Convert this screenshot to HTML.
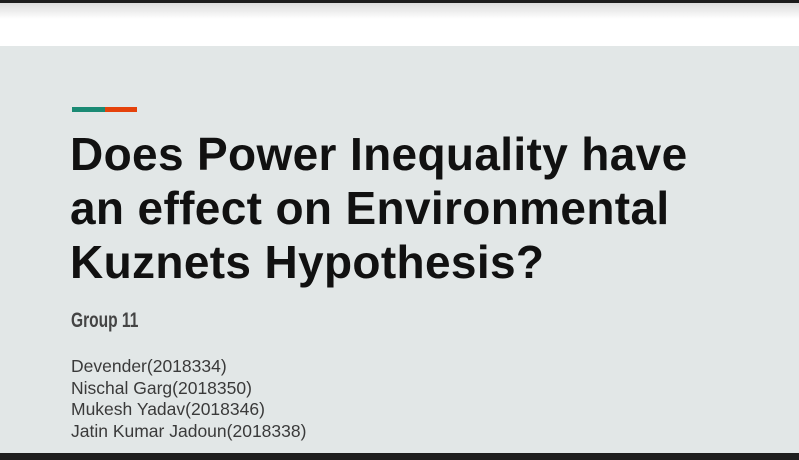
<!DOCTYPE html>
<html><head><meta charset="utf-8"><style>
body{margin:0;width:799px;height:460px;overflow:hidden;position:relative;background:#fff;font-family:"Liberation Sans",sans-serif}
.top{position:absolute;left:0;top:0;width:799px;height:3px;background:#1c1c1c}
.shade{position:absolute;left:0;top:3px;width:799px;height:16px;background:linear-gradient(#dcdcdc,#fff)}
.slide{position:absolute;left:0;top:46px;width:799px;height:407px;background:#e2e7e7}
.bot{position:absolute;left:0;top:453px;width:799px;height:7px;background:#1e1e1e}
.acc1{position:absolute;left:72px;top:107px;width:33px;height:5px;background:#1a8a74}
.acc2{position:absolute;left:105px;top:107px;width:32px;height:5px;background:#e5420b}
.title{position:absolute;left:70px;top:127px;font-weight:bold;font-size:46px;line-height:54px;color:#111;letter-spacing:0.35px;margin:0;white-space:nowrap}
.grp{position:absolute;left:71px;top:309px;font-family:"Liberation Sans Narrow","Liberation Sans",sans-serif;font-weight:bold;font-size:21px;color:#444;transform:scaleX(0.74);transform-origin:left}
.names{position:absolute;left:71px;top:356px;font-size:17.5px;line-height:21.5px;color:#3a3a3a}
</style></head><body>
<div class="top"></div>
<div class="shade"></div>
<div class="slide">
</div>
<div class="acc1"></div>
<div class="acc2"></div>
<h1 class="title">Does Power Inequality have<br>an effect on Environmental<br>Kuznets Hypothesis?</h1>
<div class="grp">Group 11</div>
<div class="names">Devender(2018334)<br>Nischal Garg(2018350)<br>Mukesh Yadav(2018346)<br>Jatin Kumar Jadoun(2018338)</div>
<div class="bot"></div>
</body></html>
